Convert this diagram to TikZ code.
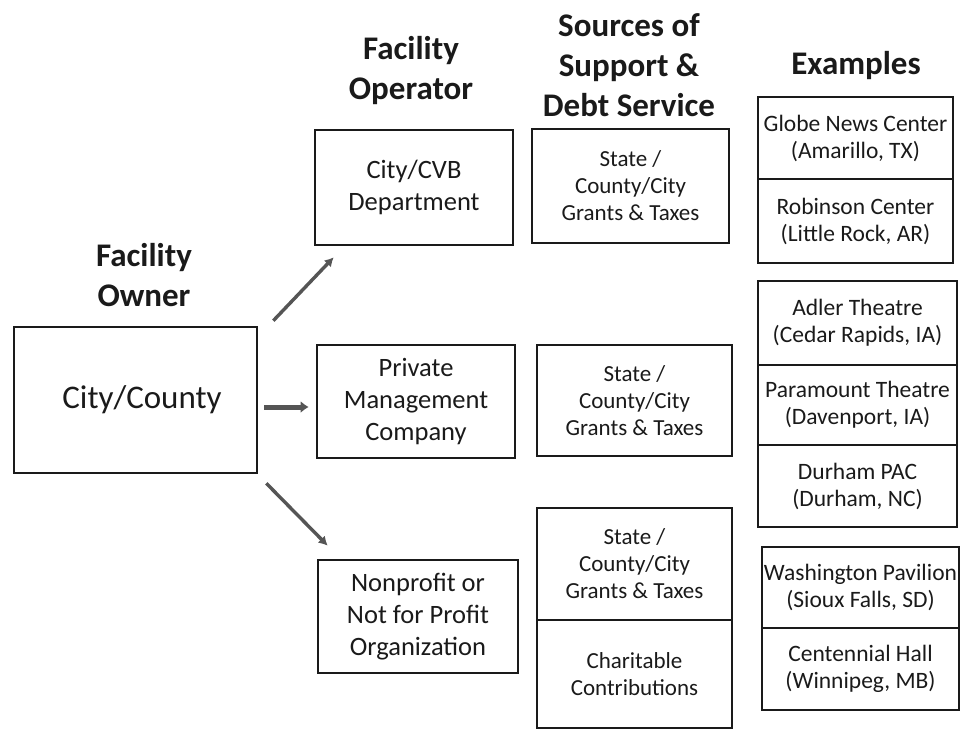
\documentclass[tikz,border=0pt]{standalone}
\usepackage{fontspec}
\setmainfont{Carlito}
\usetikzlibrary{arrows.meta}
\definecolor{arrgray}{HTML}{555555}
\definecolor{ink}{HTML}{1A1A1A}
\tikzset{
  hdr/.style={font=\fontsize{33}{40}\selectfont\bfseries, align=center, text=ink, inner sep=0pt},
  boxbase/.style={draw=ink, line width=2.6pt, inner sep=0pt, align=center, text=ink},
  ownerbox/.style={boxbase, font=\fontsize{33}{40}\selectfont},
  opbox/.style={boxbase, font=\fontsize{26.5}{32}\selectfont},
  srcbox/.style={boxbase, font=\fontsize{23}{27}\selectfont},
  exbox/.style={boxbase, font=\fontsize{23.5}{27}\selectfont},
  arr/.style={draw=arrgray, line width=3.4pt, -{Latex[length=9pt,width=10pt]}},
  arrthick/.style={draw=arrgray, line width=5pt, -{Latex[length=8pt,width=12pt]}}
}
\begin{document}
\begin{tikzpicture}[x=1pt,y=-1pt]
\useasboundingbox (0,0) rectangle (962,731);
% headers
\node[hdr] (hOwner) at (144,275) {Facility\\Owner};
\node[hdr] (hOp) at (411,71) {Facility\\Operator};
\node[hdr] (hSrc) at (629,65) {Sources of\\Support \&\\Debt Service};
\node[hdr] (hEx) at (856,66) {Examples};
% owner
\node[ownerbox, minimum width=243pt, minimum height=146pt] (owner) at (135.5,400) {\hspace*{13pt}City/County};
% operators
\node[opbox, minimum width=198pt, minimum height=115pt] (op1) at (414,187.5) {City/CVB\\Department};
\node[opbox, minimum width=198pt, minimum height=113pt] (op2) at (416,401.5) {Private\\Management\\Company};
\node[opbox, minimum width=200pt, minimum height=113pt] (op3) at (418,616.5) {Nonprofit or\\Not for Profit\\Organization};
% sources
\node[srcbox, minimum width=197pt, minimum height=114pt] (src1) at (630.5,186) {State /\\County/City\\Grants \& Taxes};
\node[srcbox, minimum width=195pt, minimum height=111pt] (src2) at (634.5,400.5) {State /\\County/City\\Grants \& Taxes};
\node[srcbox, minimum width=195pt, minimum height=112pt] (src3a) at (634.5,564) {State /\\County/City\\Grants \& Taxes};
\node[srcbox, minimum width=195pt, minimum height=108pt] (src3b) at (634.5,674) {Charitable\\Contributions};
% examples
\node[exbox, minimum width=195pt, minimum height=82pt] (ex1a) at (855.5,138) {Globe News Center\\(Amarillo, TX)};
\node[exbox, minimum width=195pt, minimum height=84pt] (ex1b) at (855.5,221) {Robinson Center\\(Little Rock, AR)};
\node[exbox, minimum width=199pt, minimum height=84pt] (ex2a) at (857.5,323) {Adler Theatre\\(Cedar Rapids, IA)};
\node[exbox, minimum width=199pt, minimum height=80pt] (ex2b) at (857.5,405) {Paramount Theatre\\(Davenport, IA)};
\node[exbox, minimum width=199pt, minimum height=82pt] (ex2c) at (857.5,486) {Durham PAC\\(Durham, NC)};
\node[exbox, minimum width=197pt, minimum height=81pt] (ex3a) at (860.5,587.5) {Washington Pavilion\\(Sioux Falls, SD)};
\node[exbox, minimum width=197pt, minimum height=82pt] (ex3b) at (860.5,669) {Centennial Hall\\(Winnipeg, MB)};
% arrows
\draw[arr] ([shift={(15,-5)}]owner.north east) -- ([shift={(20,11)}]op1.south west);
\draw[arrthick] ([shift={(6,7)}]owner.east) -- ([shift={(-7,5.5)}]op2.west);
\draw[arr] ([shift={(8,9)}]owner.south east) -- ([shift={(11,-13)}]op3.north west);
\end{tikzpicture}
\end{document}
